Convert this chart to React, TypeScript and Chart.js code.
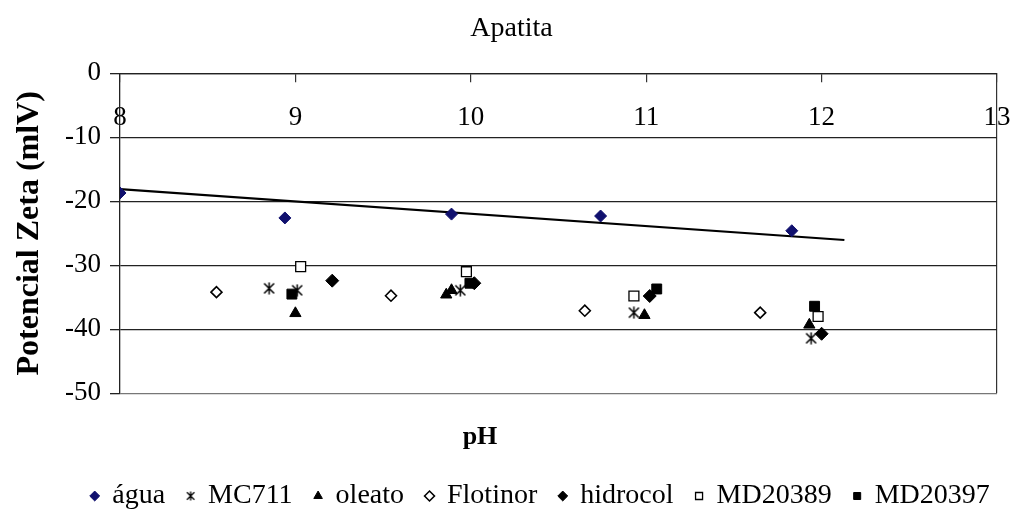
import React, { useEffect, useRef } from 'react';
import { Chart, registerables } from 'chart.js';

Chart.register(...registerables);

// ---- data ----
const xTicks = [8, 9, 10, 11, 12, 13];
const yTicks = [0, -10, -20, -30, -40, -50];

const aguaX = [8.0, 8.94, 9.89, 10.74, 11.83];
const aguaY = [-18.7, -22.6, -22.0, -22.3, -24.6];

const mc711X = [8.85, 9.01, 9.94, 10.93, 11.94];
const mc711Y = [-33.6, -33.9, -33.9, -37.4, -41.4];

const oleatoX = [9.0, 9.86, 9.89, 10.99, 11.93];
const oleatoY = [-37.5, -34.6, -33.9, -37.8, -39.3];

const flotinorX = [8.55, 9.545, 10.65, 11.65];
const flotinorY = [-34.2, -34.75, -37.1, -37.4];

const hidrocolX = [9.21, 10.02, 11.02, 12.0];
const hidrocolY = [-32.4, -32.8, -34.8, -40.7];

const md20389X = [9.03, 9.975, 10.93, 11.98];
const md20389Y = [-30.2, -31.0, -34.8, -38.0];

const md20397X = [8.98, 9.995, 11.06, 11.96];
const md20397Y = [-34.5, -32.8, -33.7, -36.4];

const trendX = [8.0, 12.13];
const trendY = [-18.1, -26.05];

const pts = (xs: number[], ys: number[]) => xs.map((x, i) => ({ x, y: ys[i] }));

const FONT = 'Liberation Serif';
const PH_CENTER_PX = 480;
const LEGEND_SHIFT_X = 42;
const LEGEND_SHIFT_Y = 2;
const TITLE_SHIFT_X = 13;

function makeAsterisk(size: number, lw: number): HTMLCanvasElement {
  const c = document.createElement('canvas');
  c.width = size;
  c.height = size;
  const g = c.getContext('2d')!;
  g.strokeStyle = '#000';
  g.lineWidth = lw;
  const m = lw;
  g.beginPath();
  g.moveTo(m, m);
  g.lineTo(size - m, size - m);
  g.moveTo(size - m, m);
  g.lineTo(m, size - m);
  g.moveTo(size / 2, 0.5);
  g.lineTo(size / 2, size - 0.5);
  g.stroke();
  return c;
}

const layoutShift = {
  id: 'layoutShift',
  afterLayout(chart: any) {
    const x2 = chart.scales.x2;
    if (x2) {
      x2.left = PH_CENTER_PX - 60;
      x2.right = PH_CENTER_PX + 60;
    }
    const lg = chart.legend;
    if (lg) {
      lg.left += LEGEND_SHIFT_X;
      lg.right += LEGEND_SHIFT_X;
      lg.top += LEGEND_SHIFT_Y;
      lg.bottom += LEGEND_SHIFT_Y;
    }
    const tb = chart.titleBlock;
    if (tb) {
      tb.left += TITLE_SHIFT_X;
      tb.right += TITLE_SHIFT_X;
    }
  },
};

export default function App() {
  const ref = useRef<HTMLCanvasElement | null>(null);

  useEffect(() => {
    document.body.style.margin = '0';
    if (!ref.current) return;
    const star = makeAsterisk(13, 1.5);
    const starSmall = makeAsterisk(10, 1.3);

    const chart = new Chart(ref.current, {
      type: 'scatter',
      data: {
        datasets: [
          {
            label: 'água',
            data: pts(aguaX, aguaY),
            pointStyle: 'rectRot',
            pointRadius: 6,
            backgroundColor: '#10106e',
            borderColor: '#10106e',
            borderWidth: 1,
          },
          {
            label: 'MC711',
            data: pts(mc711X, mc711Y),
            pointStyle: star as any,
            pointRadius: 6,
            backgroundColor: '#000',
            borderColor: '#000',
            borderWidth: 1,
          },
          {
            label: 'oleato',
            data: pts(oleatoX, oleatoY),
            pointStyle: 'triangle',
            pointRadius: 6.5,
            backgroundColor: '#000',
            borderColor: '#000',
            borderWidth: 1,
          },
          {
            label: 'Flotinor',
            data: pts(flotinorX, flotinorY),
            pointStyle: 'rectRot',
            pointRadius: 5.5,
            backgroundColor: '#fff',
            borderColor: '#000',
            borderWidth: 1.6,
          },
          {
            label: 'hidrocol',
            data: pts(hidrocolX, hidrocolY),
            pointStyle: 'rectRot',
            pointRadius: 6.5,
            backgroundColor: '#000',
            borderColor: '#000',
            borderWidth: 1,
          },
          {
            label: 'MD20389',
            data: pts(md20389X, md20389Y),
            pointStyle: 'rect',
            pointRadius: 7,
            backgroundColor: '#fff',
            borderColor: '#000',
            borderWidth: 1.3,
          },
          {
            label: 'MD20397',
            data: pts(md20397X, md20397Y),
            pointStyle: 'rect',
            pointRadius: 7,
            backgroundColor: '#000',
            borderColor: '#000',
            borderWidth: 1,
          },
          {
            type: 'line' as any,
            label: 'trend',
            data: pts(trendX, trendY),
            showLine: true,
            pointRadius: 0,
            borderColor: '#000',
            borderWidth: 2.2,
            fill: false,
          } as any,
        ],
      },
      options: {
        animation: false,
        responsive: false,
        events: [],
        layout: { padding: { top: 0, right: 15, bottom: 0, left: 0 } },
        scales: {
          x: {
            type: 'linear',
            min: xTicks[0],
            max: xTicks[xTicks.length - 1],
            position: { y: 0 } as any,
            afterBuildTicks: (s: any) => {
              s.ticks = xTicks.map((v) => ({ value: v }));
            },
            afterFit: (s: any) => {
              s.paddingLeft = 0;
              s.paddingRight = 0;
            },
            ticks: {
              font: { family: FONT, size: 27 },
              color: '#000',
              padding: 20,
              maxRotation: 0,
            },
            grid: {
              drawOnChartArea: true,
              color: (ctx: any) =>
                ctx.tick && ctx.tick.value === xTicks[xTicks.length - 1] ? '#333' : 'rgba(0,0,0,0)',
              tickColor: '#333',
              tickLength: 8,
              lineWidth: 1.2,
            },
            border: { display: true, color: '#222', width: 1.3 },
          },
          x2: {
            type: 'linear',
            position: 'bottom',
            min: xTicks[0],
            max: xTicks[xTicks.length - 1],
            ticks: { display: false },
            grid: { display: false, drawTicks: false },
            border: { display: false },
            title: {
              display: true,
              text: 'pH',
              color: '#000',
              font: { family: FONT, size: 26, weight: 'bold' },
              padding: { top: 28, bottom: 5.5 },
            },
          },
          y: {
            type: 'linear',
            min: yTicks[yTicks.length - 1],
            max: yTicks[0],
            afterBuildTicks: (s: any) => {
              s.ticks = yTicks.slice().reverse().map((v) => ({ value: v }));
            },
            afterFit: (s: any) => {
              s.width = 120;
            },
            ticks: {
              font: { family: FONT, size: 27 },
              color: '#000',
              padding: 9,
            },
            grid: {
              color: (ctx: any) =>
                ctx.tick && ctx.tick.value === yTicks[yTicks.length - 1] ? '#777' : '#222',
              tickColor: '#222',
              tickLength: 10,
              lineWidth: 1.3,
            },
            border: { display: true, color: '#222', width: 1.3 },
            title: {
              display: true,
              text: 'Potencial Zeta (mlV)',
              color: '#000',
              font: { family: FONT, size: 32, weight: 'bold' },
              padding: { top: 11, bottom: 0 },
            },
          },
        },
        plugins: {
          title: {
            display: true,
            text: 'Apatita',
            color: '#000',
            font: { family: FONT, size: 28, weight: 'normal' },
            padding: { top: 12, bottom: 27.7 },
          },
          legend: {
            display: true,
            position: 'bottom',
            labels: {
              usePointStyle: true,
              boxWidth: 7,
              boxHeight: 7,
              padding: 22,
              color: '#000',
              font: { family: FONT, size: 28 },
              filter: (item: any) => item.text !== 'trend',
              generateLabels: (ch: any) => {
                const base = (Chart.defaults.plugins.legend.labels as any).generateLabels(ch);
                return base.map((it: any) => (it.text === 'MC711' ? { ...it, pointStyle: starSmall } : it));
              },
            },
          },
          tooltip: { enabled: false },
        },
      } as any,
      plugins: [layoutShift],
    });
    return () => chart.destroy();
  }, []);

  return (
    <div style={{ width: 1012, height: 518, position: 'relative', background: '#fff' }}>
      <canvas ref={ref} width={1012} height={518} />
    </div>
  );
}
